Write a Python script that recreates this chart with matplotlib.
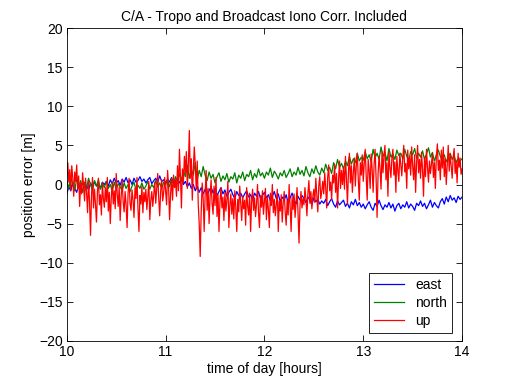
import numpy as np
import matplotlib
matplotlib.use("Agg")
import matplotlib.pyplot as plt

plt.rcParams['font.family'] = ['Liberation Sans', 'DejaVu Sans']

time_en = np.linspace(10.0, 14.0, 201)   # time grid for east / north
time_up = np.linspace(10.0, 14.0, 401)   # time grid for up

up = [
    1.2, 2.8, 0.3, 1.9, -0.8, 2.4, 0.9, -1.5, 1.6, 0.4,
    2.5, -0.6, 1.1, -2.8, 0.2, -1.2, 1.5, -0.3, -2.1, 0.8,
    -1.0, -3.6, 0.5, -2.2, -6.5, -1.4, 0.9, -3.0, -0.6, -2.5,
    -4.8, -0.9, 0.8, -2.6, -1.3, -3.9, 0.2, -1.8, -2.9, -0.4,
    -2.2, 0.9, -3.4, -1.0, -5.0, -1.7, 0.3, -2.5, -0.8, -3.1,
    1.4, -1.2, -2.8, -0.3, -4.6, -1.5, 0.6, -2.2, -3.5, -0.9,
    -2.6, -5.5, -1.1, 0.8, -2.4, -3.3, -0.7, -1.9, -4.2, -0.5,
    -1.8, 0.9, -3.0, -6.0, -1.4, -2.5, -0.2, -3.6, -1.0, -2.2,
    -0.6, -3.2, -1.5, 0.4, -4.5, -2.0, -0.9, -2.8, -1.3, 0.3,
    -2.4, -0.5, 1.4, -1.7, -4.0, -0.8, 0.6, -2.1, -1.1, 0.9,
    -0.9, -2.6, 1.8, -0.3, -4.5, -1.2, 0.7, -2.0, 1.2, -0.4,
    0.6, -1.5, 2.4, -0.8, 4.5, 1.0, -3.0, 2.0, 0.2, 3.6,
    1.5, 4.2, -0.5, 2.6, 6.9, 0.8, 3.3, -2.0, 1.9, 4.8,
    2.5, -0.6, 3.0, -2.5, -5.0, -9.2, -3.5, 0.2, -1.8, -6.0,
    -1.2, 1.8, -3.3, -0.5, -5.0, -1.6, 0.6, -2.4, -3.8, -0.2,
    -2.7, 0.9, -4.1, -1.3, -6.0, -2.2, -0.4, -3.0, -1.6, -4.6,
    -1.0, -3.4, -2.0, 0.4, -5.5, -2.6, -1.2, -3.8, -1.8, -4.4,
    -0.8, -2.9, -6.0, -1.9, -3.5, -0.2, -2.4, -4.6, -1.5, -3.1,
    -2.0, -5.2, -0.4, -2.8, -3.9, -1.1, -6.0, -2.3, -0.6, -3.3,
    -1.7, -4.1, -2.5, 0.0, -3.6, -5.5, -1.4, -2.9, -0.8, -3.8,
    -2.2, -0.5, -4.5, -1.6, -3.2, -5.5, -1.1, -2.7, 0.0, -3.6,
    -1.9, -4.0, -2.6, -0.6, -6.0, -2.1, -3.4, -1.3, -4.8, -2.3,
    -0.9, -3.5, -5.2, -2.0, -3.9, 0.0, -2.8, -6.0, -1.6, -3.2,
    -1.2, -4.2, -2.3, -0.4, -3.6, -7.5, -2.7, -0.9, -3.0, -1.8,
    -2.6, -0.4, -1.9, -4.0, -1.1, 0.5, -2.4, -0.9, -3.1, -1.5,
    -0.6, -2.3, 0.8, -1.4, -3.5, -0.2, 1.0, -1.8, -0.9, 0.4,
    -1.2, 1.5, -0.4, -3.0, 0.9, 2.5, -0.8, 0.3, -1.9, 1.2,
    0.2, 2.6, -1.0, 1.4, -3.0, 0.6, 3.0, -0.5, 1.8, 0.0,
    2.2, -0.6, 3.6, 0.8, -2.5, 1.5, 4.0, 0.2, 2.4, -1.0,
    1.6, 3.4, -0.2, 2.5, 4.0, 0.5, -2.0, 2.8, 1.2, 3.8,
    0.4, 2.7, 4.5, 1.0, -2.0, 3.2, 1.8, -0.5, 3.9, 2.0,
    -1.0, 2.6, 4.5, 0.8, -4.2, 1.4, 3.6, 2.0, -0.6, 4.2,
    1.5, 3.8, 5.0, 0.6, 2.8, -1.5, 4.2, 2.2, 0.9, 3.4,
    4.5, 1.2, 2.9, -1.0, 3.6, 1.8, 0.4, 4.0, 2.5, 1.1,
    3.3, 5.0, 1.6, 2.7, -0.5, 4.4, 2.0, 3.6, 1.2, 4.8,
    2.4, 0.6, 3.8, -1.0, 2.9, 5.0, 1.5, 3.2, 0.8, 4.1,
    1.9, -1.5, 3.5, 1.0, 4.5, 2.2, 0.3, 3.0, 1.4, 2.6,
    4.0, 0.9, 2.8, -0.5, 3.6, 5.2, 1.8, 3.1, 0.6, 4.4,
    2.1, 4.8, 1.0, 3.3, 0.0, 2.6, 5.0, 1.7, 3.9, 2.4,
    0.8, 3.5, 4.6, 1.4, 2.9, 0.2, 4.0, 2.2, 3.4, 1.3,
    2.0,
]

north = [
    0.5, -0.5, 1.0, 0.0, -0.8, 0.8, -0.3, 0.5, -1.0, 0.3,
    -0.5, 0.8, 0.0, -0.8, 0.5, -0.2, 0.6, -0.6, 0.2, -0.4,
    0.4, -0.5, 0.0, -0.9, 0.3, -0.6, 0.1, -0.3, -0.8, 0.2,
    -0.5, 0.0, -0.9, -0.2, 0.3, -0.7, -0.1, -0.5, 0.2, -0.6,
    -0.2, 0.4, -0.6, 0.0, -0.4, 0.5, -0.3, 0.2, -0.5, 0.3,
    0.0, 0.6, -0.3, 0.8, 0.1, 1.0, 0.3, 1.4, 0.5, 1.8,
    1.0, 2.5, 0.8, 2.0, 1.2, 2.8, 0.6, 1.8, 1.0, 2.3,
    1.2, 0.5, 1.6, 0.8, 1.3, 0.2, 1.0, 1.5, 0.4, 1.1,
    0.6, 1.4, 0.3, 1.0, 0.7, 1.5, 0.2, 1.2, 0.8, 1.6,
    0.5, 1.3, 1.0, 1.8, 0.6, 1.4, 0.9, 2.0, 1.1, 1.5,
    0.8, 1.6, 1.2, 2.1, 0.9, 1.7, 1.3, 0.7, 1.5, 1.1,
    1.8, 0.9, 1.4, 2.0, 1.0, 1.6, 1.2, 2.2, 1.3, 1.8,
    1.1, 2.3, 1.5, 1.0, 2.0, 1.4, 2.4, 1.6, 1.2, 2.1,
    1.5, 2.6, 1.8, 2.2, 1.4, 2.8, 2.0, 3.2, 2.2, 2.7,
    2.0, 3.0, 2.4, 3.6, 2.6, 3.3, 2.8, 4.0, 3.0, 3.5,
    3.1, 4.2, 3.3, 3.8, 2.9, 4.5, 3.4, 4.0, 3.2, 4.8,
    3.6, 4.1, 3.0, 4.6, 3.5, 3.9, 3.2, 4.4, 3.7, 4.0,
    3.3, 4.5, 3.6, 3.1, 4.2, 3.8, 4.6, 3.4, 4.0, 3.5,
    4.3, 3.2, 3.9, 4.7, 3.5, 4.1, 3.0, 3.8, 4.4, 3.6,
    3.1, 3.8, 2.9, 3.5, 4.0, 3.2, 3.7, 2.8, 3.4, 3.0, 3.3,
]

east = [
    -1.2, -0.3, -0.8, 0.2, -0.5, -1.0, 0.0, -0.6, 0.3, -0.4,
    -0.1, -0.7, 0.2, -0.3, 0.4, -0.2, 0.1, -0.5, 0.3, 0.0,
    0.4, -0.2, 0.6, 0.1, 0.8, 0.2, 0.5, -0.1, 0.7, 0.3,
    0.9, 0.2, 0.6, 0.0, 0.8, 0.3, 0.5, 1.0, 0.4, 0.7,
    0.2, 0.6, 0.9, 0.1, 0.5, 0.8, 0.3, 1.1, 0.4, 0.6,
    0.2, 0.7, 0.3, 0.9, 0.1, 0.5, 0.8, 0.2, 0.6, 0.0,
    0.4, -0.3, 0.2, -0.5, 0.0, -0.8, -0.2, -1.0, -0.4, -1.2,
    -0.6, -1.3, -0.8, -0.3, -1.1, -0.5, -1.4, -0.9, -0.4, -1.2,
    -0.7, -1.5, -1.0, -0.6, -1.3, -1.8, -0.9, -1.4, -1.1, -1.7,
    -1.2, -0.8, -1.6, -1.3, -2.0, -1.1, -1.5, -0.9, -1.8, -1.4,
    -1.0, -1.7, -1.3, -2.1, -1.5, -0.9, -1.8, -1.2, -2.2, -1.6,
    -2.0, -1.3, -2.4, -1.7, -1.1, -1.9, -2.5, -1.5, -2.0, -1.4,
    -1.8, -2.3, -1.6, -2.0, -2.6, -1.7, -2.2, -1.9, -2.5, -2.1,
    -2.4, -1.9, -2.7, -2.2, -1.8, -2.5, -2.9, -2.1, -2.6, -2.3,
    -2.0, -2.8, -2.4, -3.0, -2.2, -2.6, -1.9, -2.7, -2.3, -2.9,
    -2.5, -3.1, -2.6, -2.2, -2.9, -3.3, -2.4, -2.8, -2.0, -2.7,
    -3.2, -2.6, -2.9, -2.3, -3.0, -2.5, -3.4, -2.7, -2.4, -3.1,
    -2.6, -2.9, -2.2, -3.0, -2.5, -2.8, -3.3, -2.4, -2.7, -2.1,
    -2.8, -2.4, -3.1, -2.6, -2.0, -2.9, -2.3, -2.7, -3.0, -2.2,
    -1.8, -2.5, -1.6, -2.2, -1.4, -2.0, -1.7, -2.3, -1.5, -1.9, -1.6,
]

series_names = ["east", "north", "up"]
series_colors = ["#0000ff", "#008000", "#ff0000"]
xticks = [10, 11, 12, 13, 14]
yticks = [-20, -15, -10, -5, 0, 5, 10, 15, 20]

fig = plt.figure(figsize=(5.1, 3.84), dpi=100)
ax = fig.add_axes([0.131, 0.112, 0.775, 0.815])

for name, t, vals, col in zip(series_names, [time_en, time_en, time_up],
                              [east, north, up], series_colors):
    ax.plot(t, vals, color=col, lw=0.9, label=name)

ax.set_xlim(10, 14)
ax.set_ylim(-20, 20)
ax.set_xticks(xticks)
ax.set_yticks(yticks)
ax.tick_params(direction='in', top=True, right=True, length=4, width=0.6,
               labelsize=10, pad=3)
for s in ax.spines.values():
    s.set_linewidth(0.6)

ax.set_title("C/A - Tropo and Broadcast Iono Corr. Included", fontsize=10, pad=5)
ax.set_xlabel("time of day [hours]", fontsize=10, labelpad=2)
ax.set_ylabel("position error [m]", fontsize=10, labelpad=2)

leg = ax.legend(loc='lower right', bbox_to_anchor=(0.975, 0.026),
                borderaxespad=0, fancybox=False, framealpha=1,
                edgecolor='black', fontsize=10, handlelength=2.2,
                labelspacing=0.3, borderpad=0.35)
leg.get_frame().set_linewidth(0.6)

fig.savefig("out.png", dpi=100)
